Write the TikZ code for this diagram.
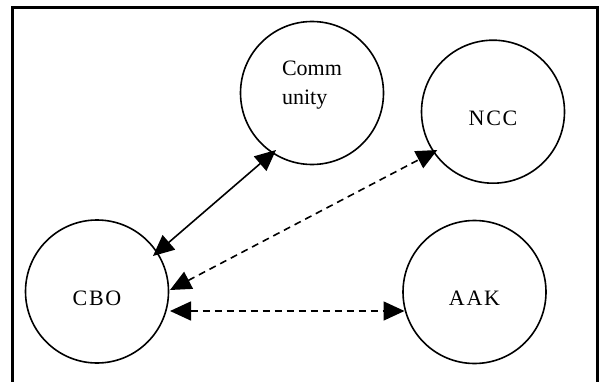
\documentclass[tikz,border=0pt]{standalone}
\usepackage{fontspec}
\setmainfont{Liberation Serif}
\usetikzlibrary{arrows.meta,calc}
\begin{document}
\begin{tikzpicture}[x=1pt,y=1pt,
  circ/.style={draw, line width=1.6pt, circle, minimum size=143pt, inner sep=0pt, outer sep=0pt, font=\fontsize{22}{29}\selectfont},
  single/.style={text height=27pt, text depth=0pt, font=\fontsize{22}{29}\selectfont\addfontfeature{LetterSpace=8}},
  tip/.tip={Triangle[length=21pt,width=19pt]},
  link/.style={line width=1.6pt, tip-tip},
  dsh/.style={dash pattern=on 7pt off 5pt},
  frame/.style={line width=2.6pt, line join=miter}]
\useasboundingbox (0,0) rectangle (601,381);
\draw[frame] (12.3,-5) -- (12.3,373.2) -- (597.5,373.2) -- (597.5,-5);
\node[circ, align=left, text depth=20pt] (com) at (312,288) {Comm\\unity};
\node[circ, single] (ncc) at (493,269.3) {NCC};
\node[circ, single] (cbo) at (97,89.5) {CBO};
\node[circ, single] (aak) at (474.5,89) {AAK};
\draw[link] ($(cbo.center)+(56,35.5)$) -- ($(com.center)+(-36,-57)$);
\draw[link, dsh] ($(cbo.center)+(73,1.5)$) -- ($(ncc.center)+(-55.7,-38.3)$);
\draw[link, dsh] ($(cbo.center)+(73,-19.5)$) -- ($(aak.center)+(-70,-19)$);
\end{tikzpicture}
\end{document}
